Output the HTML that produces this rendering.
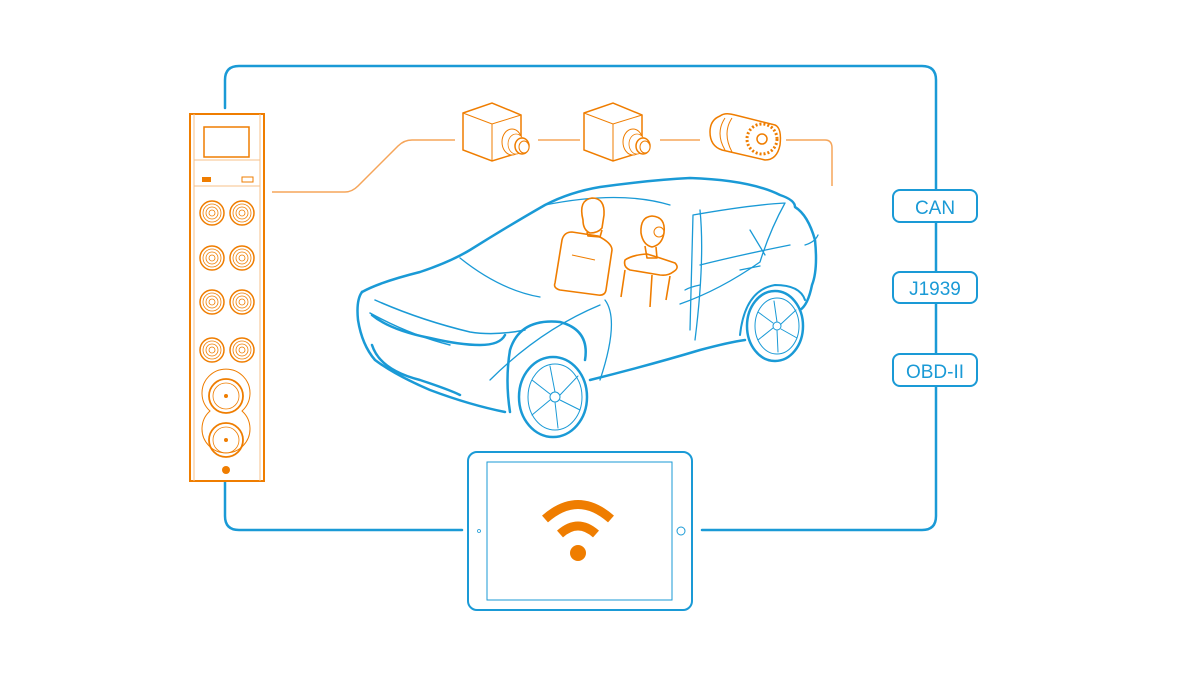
<!DOCTYPE html>
<html><head><meta charset="utf-8"><style>
html,body{margin:0;padding:0;background:#fff}
svg{display:block}
text{font-family:"Liberation Sans",sans-serif}
</style></head><body>
<svg width="1180" height="674" viewBox="0 0 1180 674" xmlns="http://www.w3.org/2000/svg">
<g fill="none" stroke="#1a9ad6" stroke-width="2.5" stroke-linecap="round">
<path d="M225,108 V80 Q225,66 239,66 H922 Q936,66 936,80 V516 Q936,530 922,530 H702"/>
<path d="M225,482 V516 Q225,530 239,530 H462"/>
</g>
<g fill="#fff" stroke="#1a9ad6" stroke-width="2">
<rect x="893" y="190" width="84" height="32" rx="7"/>
<rect x="893" y="272" width="84" height="31" rx="7"/>
<rect x="893" y="354" width="84" height="32" rx="7"/>
</g>
<g fill="#1a9ad6" font-size="19" text-anchor="middle">
<text x="935" y="214">CAN</text>
<text x="935" y="295">J1939</text>
<text x="935" y="378">OBD-II</text>
</g>
<!-- orange sensor line -->
<g fill="none" stroke="#f5a55a" stroke-width="1.5">
<path d="M272,192 H345 Q352,192 358,186 L398,146 Q404,140 412,140 H455"/>
<path d="M538,140 H580"/><path d="M660,140 H700"/>
<path d="M786,140 H825 Q832,140 832,148 V186"/>
</g>
<!-- cameras -->
<g fill="#fff" stroke="#ef7d00" stroke-width="1.5">
<g id="cam">
<path d="M463,113 L492,103 L521,115 V152 L492,161 L463,150 Z"/>
<path d="M463,113 L492,124 L521,115 M492,124 V161" stroke-width="1"/>
<ellipse cx="512" cy="142" rx="10" ry="13" stroke-width="1"/>
<ellipse cx="516" cy="144" rx="8" ry="10" stroke-width="0.8"/>
<ellipse cx="522" cy="146" rx="7" ry="8"/>
<ellipse cx="524" cy="147" rx="5" ry="6" stroke-width="1"/>
</g>
<use href="#cam" x="121"/>
<path d="M720,116 Q725,112 735,115 L775,125 Q782,128 780,145 Q777,160 765,160 L722,150 Q710,146 710,132 Q710,120 720,116 Z"/>
<path d="M725,118 Q715,133 725,150 M732,118 Q722,133 732,152" stroke-width="1"/>
<circle cx="762" cy="139" r="15" stroke-width="3" stroke-dasharray="2 2"/>
<circle cx="762" cy="139" r="5" fill="#fff"/>
</g>
<!-- device -->
<g fill="none" stroke="#ef7d00">
<rect x="190" y="114" width="74" height="367" stroke-width="2"/>
<path d="M194,114 V481 M260,114 V481 M194,160 H260 M194,186 H260" stroke="#f7c08a" stroke-width="1"/>
<rect x="204" y="127" width="45" height="30" stroke-width="1.5"/>
<rect x="242" y="177" width="11" height="5" stroke-width="1"/>
<g id="conn" stroke-width="1.2">
<circle cx="212" cy="213" r="12" stroke-width="1.5"/><circle cx="212" cy="213" r="9" stroke-width="0.8"/><circle cx="212" cy="213" r="6" stroke-width="0.8"/><circle cx="212" cy="213" r="3" stroke-width="0.8"/>
<circle cx="242" cy="213" r="12" stroke-width="1.5"/><circle cx="242" cy="213" r="9" stroke-width="0.8"/><circle cx="242" cy="213" r="6" stroke-width="0.8"/><circle cx="242" cy="213" r="3" stroke-width="0.8"/>
</g>
<use href="#conn" y="45"/><use href="#conn" y="89"/><use href="#conn" y="137"/>
<path d="M210,411 A24,24 0 1,1 242,411 A24,24 0 1,1 210,411 Z" stroke-width="1"/>
<circle cx="226" cy="396" r="17" stroke-width="1.8"/><circle cx="226" cy="396" r="13" stroke-width="0.8"/>
<circle cx="226" cy="440" r="17" stroke-width="1.8"/><circle cx="226" cy="440" r="13" stroke-width="0.8"/>
</g>
<rect x="202" y="177" width="9" height="5" fill="#ef7d00"/>
<circle cx="226" cy="396" r="2" fill="#ef7d00"/><circle cx="226" cy="440" r="2" fill="#ef7d00"/>
<circle cx="226" cy="470" r="4" fill="#ef7d00"/>
<!-- car -->
<g fill="none" stroke="#1a9ad6" stroke-linecap="round" stroke-linejoin="round">
<path stroke-width="2.5" d="M362,292 Q380,282 420,272 Q450,262 470,250 Q510,225 545,205 Q570,192 600,187 Q650,180 690,178 Q750,180 780,195 Q795,200 795,207 Q808,215 815,240 Q818,270 812,285 Q808,305 800,310"/>
<path stroke-width="2.5" d="M362,292 Q356,300 358,320 Q362,345 375,360 Q395,375 430,390 Q470,405 505,412"/>
<path stroke-width="2.5" d="M372,315 Q390,330 430,338 Q460,345 480,345 Q500,345 505,335 M372,345 Q380,370 420,380 Q450,390 460,395"/>
<path stroke-width="1.5" d="M375,300 Q420,320 470,332 Q495,336 525,330 M370,313 Q410,335 450,345"/>
<path stroke-width="2.5" d="M590,380 Q650,365 700,350 Q730,342 745,340 M585,360 Q590,330 560,322 Q520,318 510,350 Q505,380 510,412"/>
<path stroke-width="2" d="M740,335 Q745,290 775,285 Q800,285 805,300"/>
<ellipse cx="553" cy="397" rx="34" ry="40" stroke-width="2.5"/>
<ellipse cx="555" cy="397" rx="27" ry="33" stroke-width="1"/>
<circle cx="555" cy="397" r="5" stroke-width="1"/>
<path stroke-width="1" d="M555,392 L550,366 M560,395 L578,376 M560,400 L580,410 M555,402 L558,428 M550,400 L532,415 M550,394 L532,380"/>
<ellipse cx="775" cy="326" rx="28" ry="35" stroke-width="2.5"/>
<ellipse cx="777" cy="326" rx="22" ry="28" stroke-width="1"/>
<circle cx="777" cy="326" r="4" stroke-width="1"/>
<path stroke-width="1" d="M777,322 L774,301 M781,324 L796,310 M781,329 L797,338 M777,330 L778,352 M773,328 L758,340 M773,323 L758,312"/>
<path stroke-width="1.3" d="M460,258 Q500,290 540,297 M545,205 Q620,190 670,205 M693,215 Q750,205 785,203 M700,210 Q705,260 695,340 M693,215 L690,330 M700,265 Q740,255 790,245 M680,304 Q720,290 760,262 M785,203 Q770,230 760,262 M805,245 Q815,242 818,235 M600,380 Q620,320 605,300 M490,380 Q540,330 600,305 M750,230 L765,255"/>
<path stroke-width="1.3" d="M685,290 Q690,287 700,285 M740,270 Q750,268 760,266"/>
</g>
<!-- dummies -->
<g fill="none" stroke="#ef7d00" stroke-width="1.6" stroke-linejoin="round">
<path d="M583,220 Q578,200 592,198 Q605,198 604,215 L602,228 Q598,233 590,233 Q583,230 583,220 Z"/>
<path d="M587,232 L588,236 L600,237 L602,230"/>
<path d="M572,232 L598,236 Q612,243 612,250 L606,290 Q605,296 598,295 L560,290 Q553,288 555,283 L562,240 Q564,232 572,232 Z"/>
<path d="M572,255 L595,260" stroke-width="1"/>
<path d="M641,233 Q640,217 652,216 Q666,217 664,233 Q662,245 652,247 Q643,245 641,233 Z"/>
<circle cx="659" cy="232" r="5" stroke-width="1"/>
<path d="M645,246 L647,258 L657,258 L656,247"/>
<path d="M625,260 Q632,255 647,254 L660,258 L675,263 Q680,268 673,272 Q668,276 660,275 L630,270 Q623,267 625,260 Z"/>
<path d="M625,270 L621,297 M652,275 L650,307 M670,276 L666,300"/>
</g>
<!-- tablet -->
<g fill="#fff" stroke="#1a9ad6">
<rect x="468" y="452" width="224" height="158" rx="9" stroke-width="2"/>
<rect x="487" y="462" width="185" height="138" stroke-width="1"/>
<circle cx="681" cy="531" r="4" stroke-width="1"/>
<circle cx="479" cy="531" r="1.5" stroke-width="0.8"/>
</g>
<g fill="none" stroke="#ef7d00" stroke-width="9">
<path d="M545,519 Q578,490 611,519"/>
<path d="M560,534 Q578,518 596,534"/>
</g>
<circle cx="578" cy="553" r="8" fill="#ef7d00"/>
</svg>
</body></html>
